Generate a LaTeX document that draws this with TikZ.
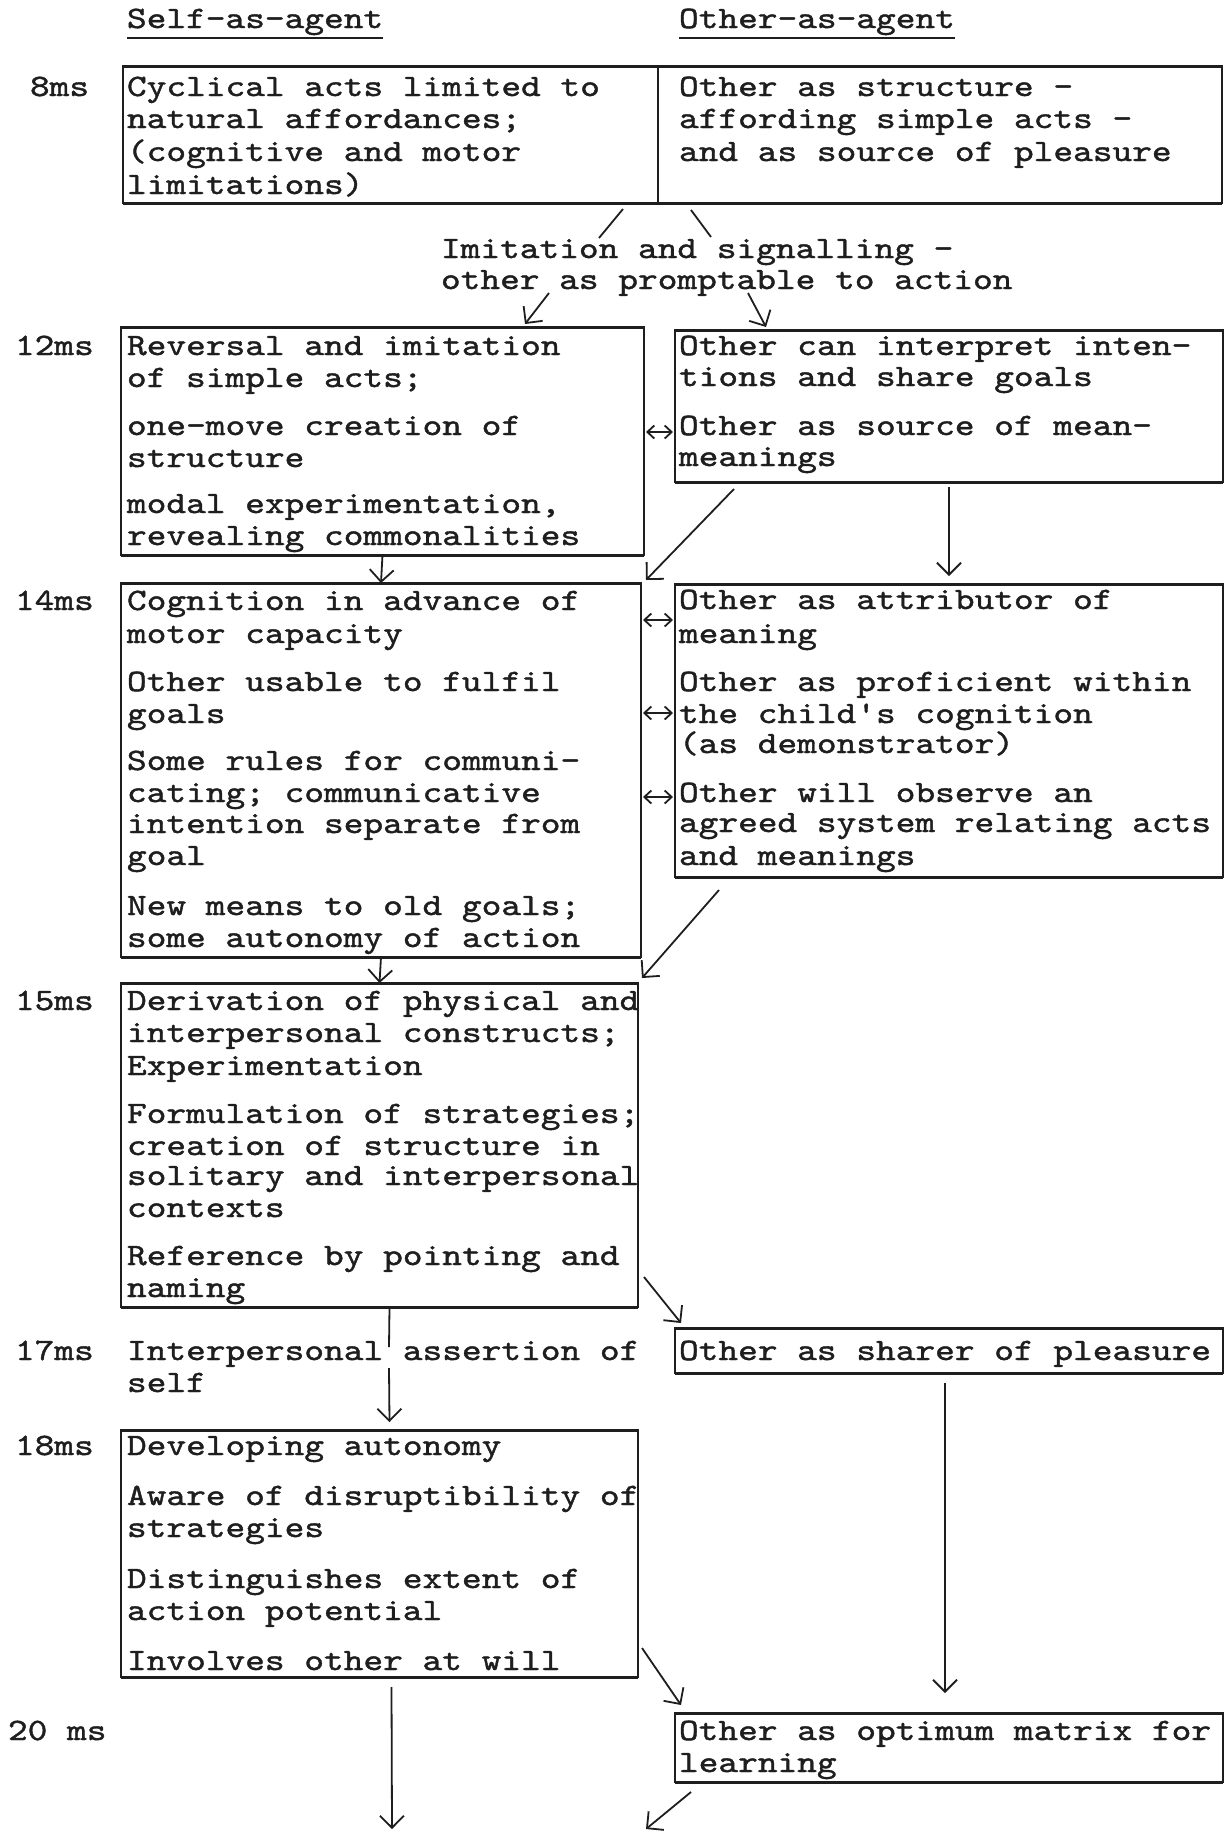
\documentclass[tikz,border=0pt]{standalone}
\usepackage{fontspec}
\newfontfamily\tw{lmmono10-regular.otf}[FakeBold=1.3, FakeStretch=1.207]
\usetikzlibrary{arrows.meta,fit}
\definecolor{ink}{HTML}{1E1E1E}
\tikzset{
  txt/.style={anchor=base west, inner sep=0pt, outer sep=0pt, text=ink,
    font=\tw\fontsize{15.55pt}{15.85pt}\selectfont},
  frame/.style={draw=ink, line width=1pt, inner sep=0pt, outer sep=0pt},
  rule/.style={draw=ink, line width=1.5pt},
  arr/.style={draw=ink, line width=0.9pt, -{Straight Barb[length=6pt,width=12pt]}},
  dbl/.style={draw=ink, line width=0.9pt, {Straight Barb[length=3.5pt,width=6.5pt]}-{Straight Barb[length=3.5pt,width=6.5pt]}},
  plain/.style={draw=ink, line width=0.9pt},
}
\newcommand\myln[4]{\node[txt] (#1) at (#2,#3) {#4};}
\newcommand\mybox[5]{\node[frame, fit={(#2,#3) (#4,#5)}] (#1) {};
  \draw[rule] (#1.north west) -- (#1.north east) (#1.south west) -- (#1.south east);}
\begin{document}
\begin{tikzpicture}[x=0.5pt,y=-0.5pt]
\useasboundingbox (0,0) rectangle (1228,1832);
\fill[white] (0,0) rectangle (1228,1832);
% headers
\myln{hs}{127}{28}{Self-as-agent}
\myln{ho}{679}{28}{Other-as-agent}
\draw[ink,line width=1.4pt] ([yshift=-5pt]hs.base west) -- ([yshift=-5pt]hs.base east);
\draw[ink,line width=1.4pt] ([yshift=-5pt]ho.base west) -- ([yshift=-5pt]ho.base east);
% age labels
\myln{l8}{30}{96}{8ms}
\myln{l12}{15}{355}{12ms}
\myln{l14}{15}{610}{14ms}
\myln{l15}{15}{1010}{15ms}
\myln{l17}{15}{1360}{17ms}
\myln{l18}{15}{1455}{18ms}
\myln{l20}{8}{1740}{20 ms}
% boxes
\mybox{bA}{123}{66}{1222}{203}
\draw[frame] ([shift={(535,0)}]bA.north west) -- ([shift={(535,0)}]bA.south west);
\mybox{bB}{121}{327}{644}{555}
\mybox{bC}{675}{330}{1223}{482}
\mybox{bD}{121}{583}{641}{957}
\mybox{bE}{675}{584}{1223}{877}
\mybox{bF}{121}{983}{638}{1307}
\mybox{bH}{675}{1328}{1223}{1373}
\mybox{bG}{121}{1430}{638}{1677}
\mybox{bI}{675}{1713}{1223}{1782}
% box A text
\myln{a1}{127}{96}{Cyclical acts limited to}
\myln{a2}{127}{128}{natural affordances;}
\myln{a3}{127}{161}{(cognitive and motor}
\myln{a4}{127}{194}{limitations)}
\myln{a5}{679}{96}{Other as structure -}
\myln{a6}{679}{128}{affording simple acts -}
\myln{a7}{679}{161}{and as source of pleasure}
% middle text
\myln{m1}{441}{258}{Imitation and signalling -}
\myln{m2}{441}{289}{other as promptable to action}
% box B
\myln{b1}{127}{355}{Reversal and imitation}
\myln{b2}{127}{387}{of simple acts;}
\myln{b3}{127}{435}{one-move creation of}
\myln{b4}{127}{467}{structure}
\myln{b5}{127}{513}{modal experimentation,}
\myln{b6}{127}{545}{revealing commonalities}
% box C
\myln{c1}{679}{355}{Other can interpret inten-}
\myln{c2}{679}{386}{tions and share goals}
\myln{c3}{679}{435}{Other as source of mean-}
\myln{c4}{679}{466}{meanings}
% box D
\myln{d1}{127}{610}{Cognition in advance of}
\myln{d2}{127}{643}{motor capacity}
\myln{d3}{127}{691}{Other usable to fulfil}
\myln{d4}{127}{723}{goals}
\myln{d5}{127}{770}{Some rules for communi-}
\myln{d6}{127}{802}{cating; communicative}
\myln{d7}{127}{833}{intention separate from}
\myln{d8}{127}{865}{goal}
\myln{d9}{127}{915}{New means to old goals;}
\myln{d10}{127}{947}{some autonomy of action}
% box E
\myln{e1}{679}{609}{Other as attributor of}
\myln{e2}{679}{643}{meaning}
\myln{e3}{679}{691}{Other as proficient within}
\myln{e4}{679}{723}{the child's cognition}
\myln{e5}{679}{753}{(as demonstrator)}
\myln{e6}{679}{802}{Other will observe an}
\myln{e7}{679}{832}{agreed system relating acts}
\myln{e8}{679}{865}{and meanings}
% box F
\myln{f1}{127}{1010}{Derivation of physical and}
\myln{f2}{127}{1042}{interpersonal constructs;}
\myln{f3}{127}{1075}{Experimentation}
\myln{f4}{127}{1123}{Formulation of strategies;}
\myln{f5}{127}{1155}{creation of structure in}
\myln{f6}{127}{1185}{solitary and interpersonal}
\myln{f7}{127}{1217}{contexts}
\myln{f8}{127}{1265}{Reference by pointing and}
\myln{f9}{127}{1297}{naming}
% 17ms row
\myln{g1}{127}{1360}{Interpersonal assertion of}
\myln{g2}{127}{1392}{self}
\myln{h1}{679}{1360}{Other as sharer of pleasure}
% box G
\myln{k1}{127}{1455}{Developing autonomy}
\myln{k2}{127}{1505}{Aware of disruptibility of}
\myln{k3}{127}{1537}{strategies}
\myln{k4}{127}{1588}{Distinguishes extent of}
\myln{k5}{127}{1620}{action potential}
\myln{k6}{127}{1670}{Involves other at will}
% box I
\myln{i1}{679}{1740}{Other as optimum matrix for}
\myln{i2}{679}{1772}{learning}
% connectors
\draw[plain] ([shift={(500,6)}]bA.south west) -- ([shift={(158,-20)}]m1.base west);
\draw[plain] ([shift={(568,7)}]bA.south west) -- ([shift={(270,-21)}]m1.base west);
\draw[arr] ([shift={(108,4)}]m2.base west) -- ([shift={(404,-3)}]bB.north west);
\draw[arr] ([shift={(307,4)}]m2.base west) -- ([shift={(91,-3)}]bC.north west);
\draw[dbl] ([shift={(2,105)}]bB.north east) -- ([shift={(-2,102)}]bC.north west);
\draw[arr] ([shift={(59,7)}]bC.south west) -- ([shift={(5,-3)}]bD.north east);
\draw[arr] ([shift={(0,5)}]bC.south) -- ([shift={(0,-8)}]bE.north);
\draw[arr] (bB.south) -- (bD.north);
\draw[dbl] ([shift={(2,37)}]bD.north east) -- ([shift={(-2,36)}]bE.north west);
\draw[dbl] ([shift={(2,130)}]bD.north east) -- ([shift={(-2,129)}]bE.north west);
\draw[dbl] ([shift={(2,214)}]bD.north east) -- ([shift={(-2,213)}]bE.north west);
\draw[arr] ([shift={(44,13)}]bE.south west) -- ([shift={(4,-5)}]bF.north east);
\draw[arr] (bD.south) -- (bF.north);
\draw[arr] ([shift={(6,-30)}]bF.south east) -- ([shift={(6,-5)}]bH.north west);
\draw[plain] ([shift={(10,0)}]bF.south) -- ([shift={(262,-13)}]g1.base west);
\draw[arr] ([shift={(262,8)}]g1.base west) -- ([shift={(10,-8)}]bG.north);
\draw[arr] ([shift={(-4,10)}]bH.south) -- ([shift={(-4,-20)}]bI.north);
\draw[arr] ([shift={(4,-29)}]bG.south east) -- ([shift={(6,-8)}]bI.north west);
\coordinate (outL) at (392,1829);
\coordinate (outR) at (646,1829);
\draw[arr] ([shift={(12,10)}]bG.south) -- (outL);
\draw[arr] ([shift={(16,10)}]bI.south west) -- (outR);
\end{tikzpicture}
\end{document}
